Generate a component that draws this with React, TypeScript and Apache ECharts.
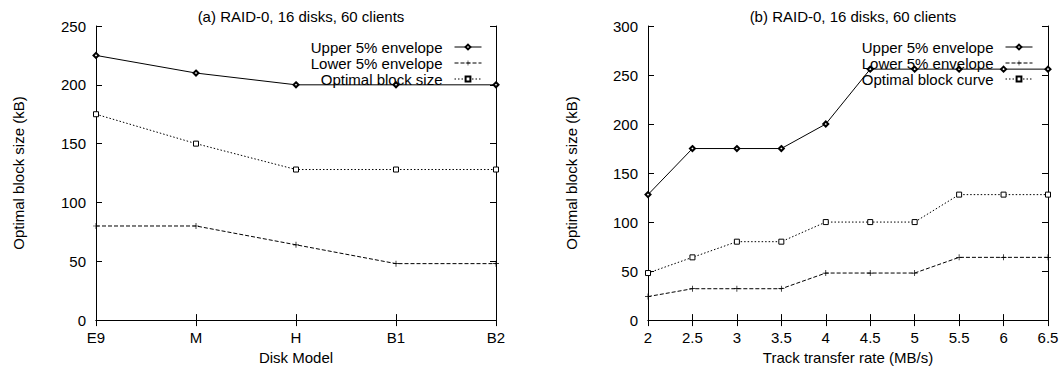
import React, { useEffect, useRef } from "react";
import * as echarts from "echarts";

const diskModels = ["E9", "M", "H", "B1", "B2"];
const leftUpper = [225, 210, 200, 200, 200];
const leftLower = [80, 80, 64, 48, 48];
const leftOptimal = [175, 150, 128, 128, 128];

const transferRates = [2, 2.5, 3, 3.5, 4, 4.5, 5, 5.5, 6, 6.5];
const rightUpper = [128, 175, 175, 175, 200, 256, 256, 256, 256, 256];
const rightLower = [24, 32, 32, 32, 48, 48, 48, 64, 64, 64];
const rightOptimal = [48, 64, 80, 80, 100, 100, 100, 128, 128, 128];

const leftTitle = "(a) RAID-0, 16 disks, 60 clients";
const rightTitle = "(b) RAID-0, 16 disks, 60 clients";
const yName = "Optimal block size (kB)";
const leftXName = "Disk Model";
const rightXName = "Track transfer rate (MB/s)";
const nameUpper = "Upper 5% envelope";
const nameLower = "Lower 5% envelope";
const nameOptLeft = "Optimal block size";
const nameOptRight = "Optimal block curve";

const FONT = "'Liberation Sans', Arial, Helvetica, sans-serif";
const FS = 15;
const PLUS = "path://M4.4,0h1.2v4.4h4.4v1.2h-4.4v4.4h-1.2v-4.4h-4.4v-1.2h4.4z";

export default function App() {
  const ref = useRef<HTMLDivElement>(null);
  useEffect(() => {
    if (!ref.current) return;
    const chart = echarts.init(ref.current, null, { renderer: "svg" });
    const axisLine = { show: true, lineStyle: { color: "#000", width: 1 } };
    const tick = { show: true, inside: true, length: 6, lineStyle: { color: "#000" } };
    const label = { color: "#000", fontSize: FS, fontFamily: FONT };
    const nameStyle = { color: "#000", fontSize: FS, fontFamily: FONT };

    const styles = {
      upper: {
        symbol: "emptyDiamond",
        symbolSize: 5,
        lineStyle: { color: "#000", width: 1, type: "solid" },
        itemStyle: { color: "#000", borderColor: "#000", borderWidth: 1 },
      },
      lower: {
        symbol: PLUS,
        symbolSize: 6,
        lineStyle: { color: "#000", width: 1, type: [4, 2] },
        itemStyle: { color: "#000", borderWidth: 0 },
      },
      opt: {
        symbol: "rect",
        symbolSize: 5,
        lineStyle: { color: "#000", width: 1, type: [1.5, 2] },
        itemStyle: { color: "#fff", borderColor: "#000", borderWidth: 1 },
      },
    };

    const mk = (name: string, st: any, data: any[], xi: number, yi: number) => ({
      type: "line",
      name,
      data,
      xAxisIndex: xi,
      yAxisIndex: yi,
      showSymbol: true,
      showAllSymbol: true,
      ...st,
    });

    const legendCommon = {
      orient: "vertical",
      align: "right",
      itemWidth: 27,
      itemHeight: 6,
      itemGap: 0,
      textStyle: {
        color: "#000",
        fontSize: FS,
        fontFamily: FONT,
        lineHeight: 16,
        padding: [0, 7, 0, 0],
      },
      lineStyle: { width: 1 },
      padding: 0,
      top: 39,
      selectedMode: false,
    };

    chart.setOption({
      animation: false,
      backgroundColor: "#fff",
      title: [
        {
          text: leftTitle,
          left: 296,
          top: 4,
          textAlign: "center",
          textStyle: { color: "#000", fontSize: FS, fontWeight: "normal", fontFamily: FONT },
        },
        {
          text: rightTitle,
          left: 848,
          top: 4,
          textAlign: "center",
          textStyle: { color: "#000", fontSize: FS, fontWeight: "normal", fontFamily: FONT },
        },
      ],
      legend: [
        { ...legendCommon, right: 580, data: [nameUpper, nameLower, nameOptLeft] },
        { ...legendCommon, right: 29, data: [nameUpper, nameLower, nameOptRight] },
      ],
      grid: [
        { left: 96, right: 566, top: 26, bottom: 45 },
        { left: 648, right: 14, top: 26, bottom: 45 },
      ],
      xAxis: [
        {
          type: "category",
          gridIndex: 0,
          data: diskModels,
          boundaryGap: false,
          axisLine,
          axisTick: tick,
          axisLabel: { ...label, margin: 10 },
          name: leftXName,
          nameLocation: "middle",
          nameGap: 25,
          nameTextStyle: nameStyle,
          splitLine: { show: false },
        },
        {
          type: "category",
          gridIndex: 0,
          position: "top",
          data: diskModels,
          boundaryGap: false,
          axisLine,
          axisTick: tick,
          axisLabel: { show: false },
          splitLine: { show: false },
        },
        {
          type: "value",
          gridIndex: 1,
          min: 2,
          max: 6.5,
          interval: 0.5,
          axisLine,
          axisTick: tick,
          axisLabel: { ...label, margin: 10 },
          name: rightXName,
          nameLocation: "middle",
          nameGap: 25,
          nameTextStyle: nameStyle,
          splitLine: { show: false },
        },
        {
          type: "value",
          gridIndex: 1,
          position: "top",
          min: 2,
          max: 6.5,
          interval: 0.5,
          axisLine,
          axisTick: tick,
          axisLabel: { show: false },
          splitLine: { show: false },
        },
      ],
      yAxis: [
        {
          type: "value",
          gridIndex: 0,
          min: 0,
          max: 250,
          interval: 50,
          axisLine,
          axisTick: tick,
          axisLabel: { ...label, margin: 10 },
          name: yName,
          nameLocation: "middle",
          nameGap: 70,
          nameTextStyle: nameStyle,
          splitLine: { show: false },
        },
        {
          type: "value",
          gridIndex: 0,
          position: "right",
          min: 0,
          max: 250,
          interval: 50,
          axisLine,
          axisTick: tick,
          axisLabel: { show: false },
          splitLine: { show: false },
        },
        {
          type: "value",
          gridIndex: 1,
          min: 0,
          max: 300,
          interval: 50,
          axisLine,
          axisTick: tick,
          axisLabel: { ...label, margin: 10 },
          name: yName,
          nameLocation: "middle",
          nameGap: 69,
          nameTextStyle: nameStyle,
          splitLine: { show: false },
        },
        {
          type: "value",
          gridIndex: 1,
          position: "right",
          min: 0,
          max: 300,
          interval: 50,
          axisLine,
          axisTick: tick,
          axisLabel: { show: false },
          splitLine: { show: false },
        },
      ],
      series: [
        mk(nameUpper, styles.upper, leftUpper, 0, 0),
        mk(nameLower, styles.lower, leftLower, 0, 0),
        mk(nameOptLeft, styles.opt, leftOptimal, 0, 0),
        mk(nameUpper, styles.upper, transferRates.map((x, i) => [x, rightUpper[i]]), 2, 2),
        mk(nameLower, styles.lower, transferRates.map((x, i) => [x, rightLower[i]]), 2, 2),
        mk(nameOptRight, styles.opt, transferRates.map((x, i) => [x, rightOptimal[i]]), 2, 2),
      ],
    });
    return () => chart.dispose();
  }, []);
  return (
    <div
      ref={ref}
      style={{ position: "fixed", left: 0, top: 0, width: 1062, height: 370 }}
    />
  );
}
